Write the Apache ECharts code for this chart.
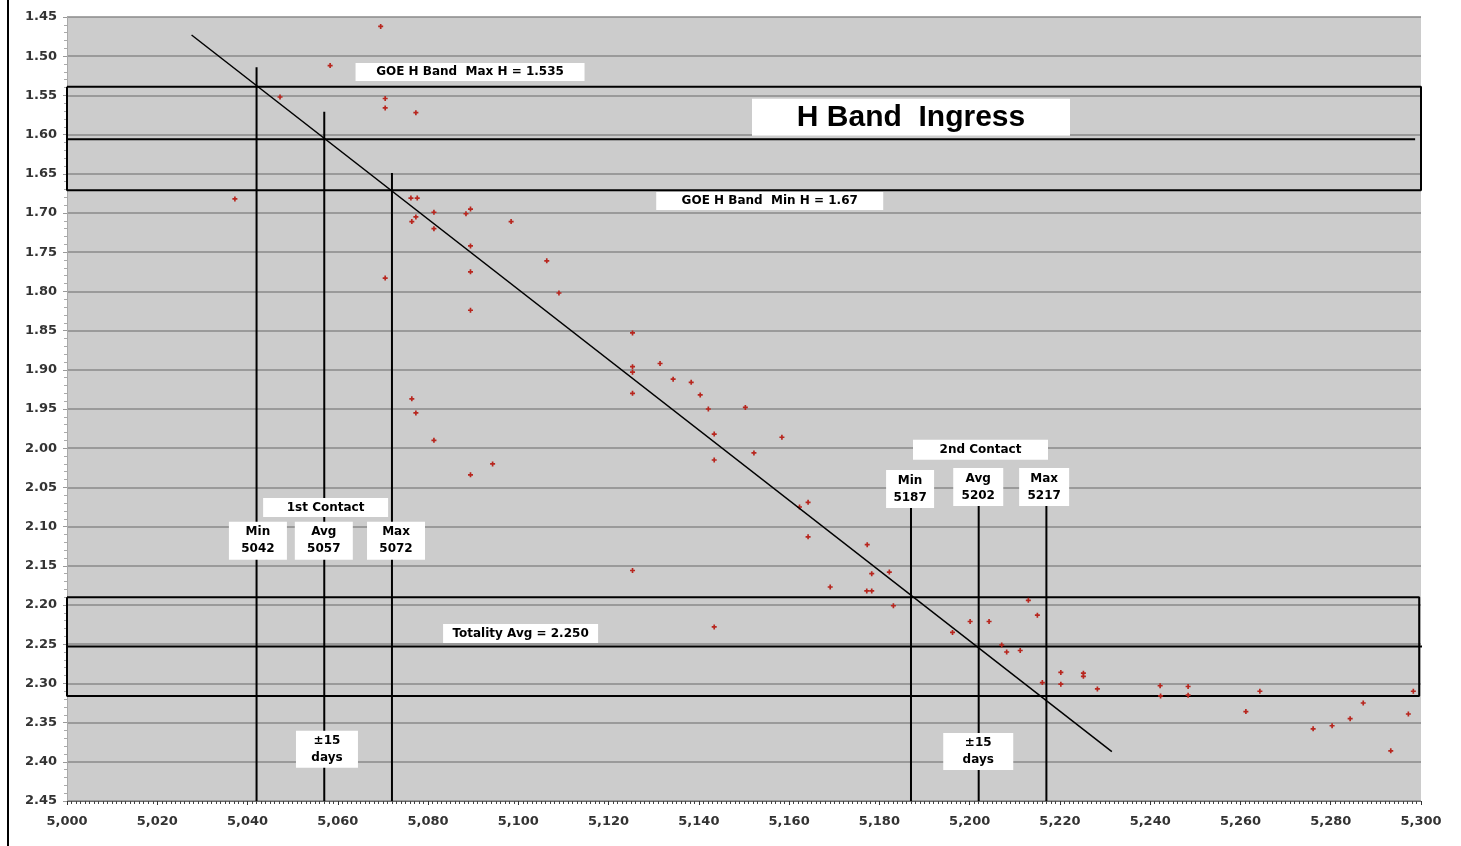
<!DOCTYPE html>
<html>
<head>
<meta charset="utf-8">
<script src="https://cdn.jsdelivr.net/npm/echarts@6/dist/echarts.min.js"></script>
<style>
html,body{margin:0;padding:0;background:#fff;}
#chart{width:1461px;height:846px;}
</style>
</head>
<body>
<div id="chart"></div>
<script>
// ---- data ----
const obsJD = [5069.5,5058.3,5047.2,5070.5,5070.5,5077.3,5037.2,5076.2,5077.6,5076.4,5077.3,5081.3,5081.3,5088.4,5089.4,5098.4,5089.4,5106.3,5089.4,5109.0,5089.4,5070.5,5076.4,5077.3,5081.3,5089.4,5094.3,
  5125.3,5131.4,5125.3,5125.3,5134.3,5138.3,5140.3,5125.3,5142.1,5150.3,5143.4,5158.4,5152.2,5143.4,5162.3,5164.2,5164.2,5125.3,5177.3,5178.3,5182.2,5169.1,5177.2,5178.3,5183.1,5143.4,
  5196.2,5213.0,5215.0,5200.1,5204.3,5207.1,5208.2,5211.2,5216.1,5220.2,5220.2,5225.2,5225.2,5228.3,5242.2,5242.3,5248.4,5248.4,5264.3,5261.2,5276.1,5280.3,5284.3,5287.2,5297.2,5298.3,5293.3];
const obsH = [1.462,1.512,1.552,1.554,1.566,1.572,1.682,1.681,1.681,1.711,1.705,1.699,1.720,1.701,1.695,1.711,1.742,1.761,1.775,1.802,1.824,1.783,1.937,1.955,1.990,2.034,2.020,
  1.853,1.892,1.896,1.903,1.912,1.916,1.932,1.930,1.950,1.948,1.982,1.986,2.006,2.015,2.075,2.069,2.113,2.156,2.123,2.160,2.158,2.177,2.182,2.182,2.201,2.228,
  2.235,2.194,2.213,2.221,2.221,2.251,2.260,2.258,2.299,2.286,2.301,2.287,2.291,2.307,2.303,2.316,2.304,2.315,2.310,2.336,2.358,2.354,2.345,2.325,2.339,2.310,2.386];

const trendJD = [5027.6, 5231.5];
const trendH = [1.473, 2.387];

const contact1JD = [5042, 5057, 5072];
const contact1Top = [1.514, 1.571, 1.649];
const contact2JD = [5187, 5202, 5217];
const contact2Top = [2.076, 2.072, 2.072];
const axisBottom = 2.45;

const hBandMaxH = 1.539;
const hBandMinH = 1.671;
const hBandMidH = 1.606;
const hBandMidJD = [4986.9, 5298.7];
const hBandBoxJD = [5000, 5300];

const totTopH = 2.19;
const totBottomH = 2.316;
const totAvgH = 2.253;
const totAvgJD = [4990.0, 5301.6];
const totBoxJD = [5000, 5299.6];

const xMin = 5000, xMax = 5300, xStep = 20;
const yMin = 1.45, yMax = 2.45, yStep = 0.05;

// ---- annotation texts ----
const texts = {
  maxH: 'GOE H Band  Max H = 1.535',
  minH: 'GOE H Band  Min H = 1.67',
  title: 'H Band  Ingress',
  c1: '1st Contact',
  c1min: 'Min\n5042', c1avg: 'Avg\n5057', c1max: 'Max\n5072',
  c2: '2nd Contact',
  c2min: 'Min\n5187', c2avg: 'Avg\n5202', c2max: 'Max\n5217',
  days: '±15\ndays',
  tot: 'Totality Avg = 2.250'
};
// annotation anchors (data coords) and box sizes (layout)
const annotations = [
  {t: texts.maxH, x: 5089.3, y: 1.520, w: 229, h: 18, fs: 12},
  {t: texts.minH, x: 5155.7, y: 1.6847, w: 227, h: 18, fs: 12},
  {t: texts.title, x: 5187.0, y: 1.578, w: 318, h: 37, fs: 30},
  {t: texts.c1, x: 5057.3, y: 2.0757, w: 125, h: 19, fs: 12},
  {t: texts.c1min, x: 5042.3, y: 2.118, w: 58, h: 38, fs: 12},
  {t: texts.c1avg, x: 5056.9, y: 2.118, w: 58, h: 38, fs: 12},
  {t: texts.c1max, x: 5072.9, y: 2.118, w: 58, h: 38, fs: 12},
  {t: texts.c2, x: 5202.4, y: 2.002, w: 135, h: 20, fs: 12},
  {t: texts.c2min, x: 5186.8, y: 2.052, w: 48, h: 38, fs: 12},
  {t: texts.c2avg, x: 5201.9, y: 2.0495, w: 50, h: 38, fs: 12},
  {t: texts.c2max, x: 5216.5, y: 2.0495, w: 50, h: 38, fs: 12},
  {t: texts.days, x: 5057.6, y: 2.384, w: 62, h: 37, fs: 12},
  {t: texts.days, x: 5201.9, y: 2.387, w: 70, h: 37, fs: 12},
  {t: texts.tot, x: 5100.5, y: 2.2364, w: 155, h: 19, fs: 12}
];

function rect(x0, x1, y0, y1) {
  return [[x0, y0], [x1, y0], [x1, y1], [x0, y1], [x0, y0]];
}
function fmtX(v) {
  const s = String(Math.round(v));
  return s.replace(/\B(?=(\d{3})+(?!\d))/g, ',');
}

const blackLine = (name, data, width, z) => ({
  type: 'line', name, data, symbol: 'none', clip: false, silent: true,
  lineStyle: {color: '#000', width: width}, z: z, animation: false
});

const series = [];
series.push(blackLine('hbox', rect(hBandBoxJD[0], hBandBoxJD[1], hBandMaxH, hBandMinH), 2, 3));
series.push(blackLine('hmid', [[hBandMidJD[0], hBandMidH], [hBandMidJD[1], hBandMidH]], 2, 3));
series.push(blackLine('tbox', rect(totBoxJD[0], totBoxJD[1], totTopH, totBottomH), 2, 3));
series.push(blackLine('tavg', [[totAvgJD[0], totAvgH], [totAvgJD[1], totAvgH]], 2, 3));
contact1JD.forEach((x, i) => series.push(blackLine('c1_' + i, [[x, contact1Top[i]], [x, axisBottom]], 2, 3)));
contact2JD.forEach((x, i) => series.push(blackLine('c2_' + i, [[x, contact2Top[i]], [x, axisBottom]], 2, 3)));
series.push({
  type: 'scatter', name: 'obs', animation: false, silent: true,
  data: obsJD.map((x, i) => [x, obsH[i]]),
  symbol: 'path://M2,0H4V2H6V4H4V6H2V4H0V2H2Z', symbolSize: 5,
  itemStyle: {color: '#b8261e', opacity: 1}, z: 4
});
series.push(blackLine('trend', trendJD.map((x, i) => [x, trendH[i]]), 1.5, 5));
series.push({
  type: 'scatter', name: 'labels', animation: false, silent: true, z: 10,
  symbolSize: 0,
  itemStyle: {opacity: 1},
  data: annotations.map(a => ({
    value: [a.x, a.y],
    label: {
      show: true, position: 'inside', formatter: a.t, opacity: 1,
      width: a.w, height: a.h, fontSize: a.fs,
      lineHeight: a.h > 30 && a.fs < 20 ? 17 : a.fs + 4,
      align: 'center', verticalAlign: 'middle',
      backgroundColor: '#ffffff', padding: 0,
      color: '#000', fontWeight: 'bold',
      fontFamily: a.fs > 20 ? 'Liberation Sans' : 'DejaVu Sans'
    }
  }))
});

const chart = echarts.init(document.getElementById('chart'), null, {renderer: 'canvas'});
chart.setOption({
  animation: false,
  backgroundColor: '#ffffff',
  grid: {left: 67, right: 40, top: 17, bottom: 45, show: true, backgroundColor: '#cccccc', borderWidth: 0},
  xAxis: {
    type: 'value', min: xMin, max: xMax, interval: xStep,
    axisLine: {show: true, lineStyle: {color: '#666', width: 1}},
    axisTick: {show: true, length: 4, lineStyle: {color: '#333'}},
    minorTick: {show: true, splitNumber: 20, length: 3, lineStyle: {color: '#444'}},
    splitLine: {show: false},
    axisLabel: {formatter: fmtX, color: '#333', fontSize: 13, fontWeight: 'bold', fontFamily: 'DejaVu Sans', margin: 14}
  },
  yAxis: {
    type: 'value', inverse: true, min: yMin, max: yMax, interval: yStep,
    axisLine: {show: true, lineStyle: {color: '#aaa', width: 1}},
    axisTick: {show: true, length: 4, lineStyle: {color: '#999'}},
    minorTick: {show: true, splitNumber: 5, length: 3, lineStyle: {color: '#aaa'}},
    splitLine: {show: true, lineStyle: {color: '#8a8a8a', width: 1.5}},
    axisLabel: {formatter: v => v.toFixed(2), color: '#333', fontSize: 13, fontWeight: 'bold', fontFamily: 'DejaVu Sans', margin: 10}
  },
  graphic: [{
    type: 'line', shape: {x1: 8, y1: 0, x2: 8, y2: 846},
    style: {stroke: '#000', lineWidth: 2}, z: 100, silent: true
  }],
  series: series
});
</script>
</body>
</html>
